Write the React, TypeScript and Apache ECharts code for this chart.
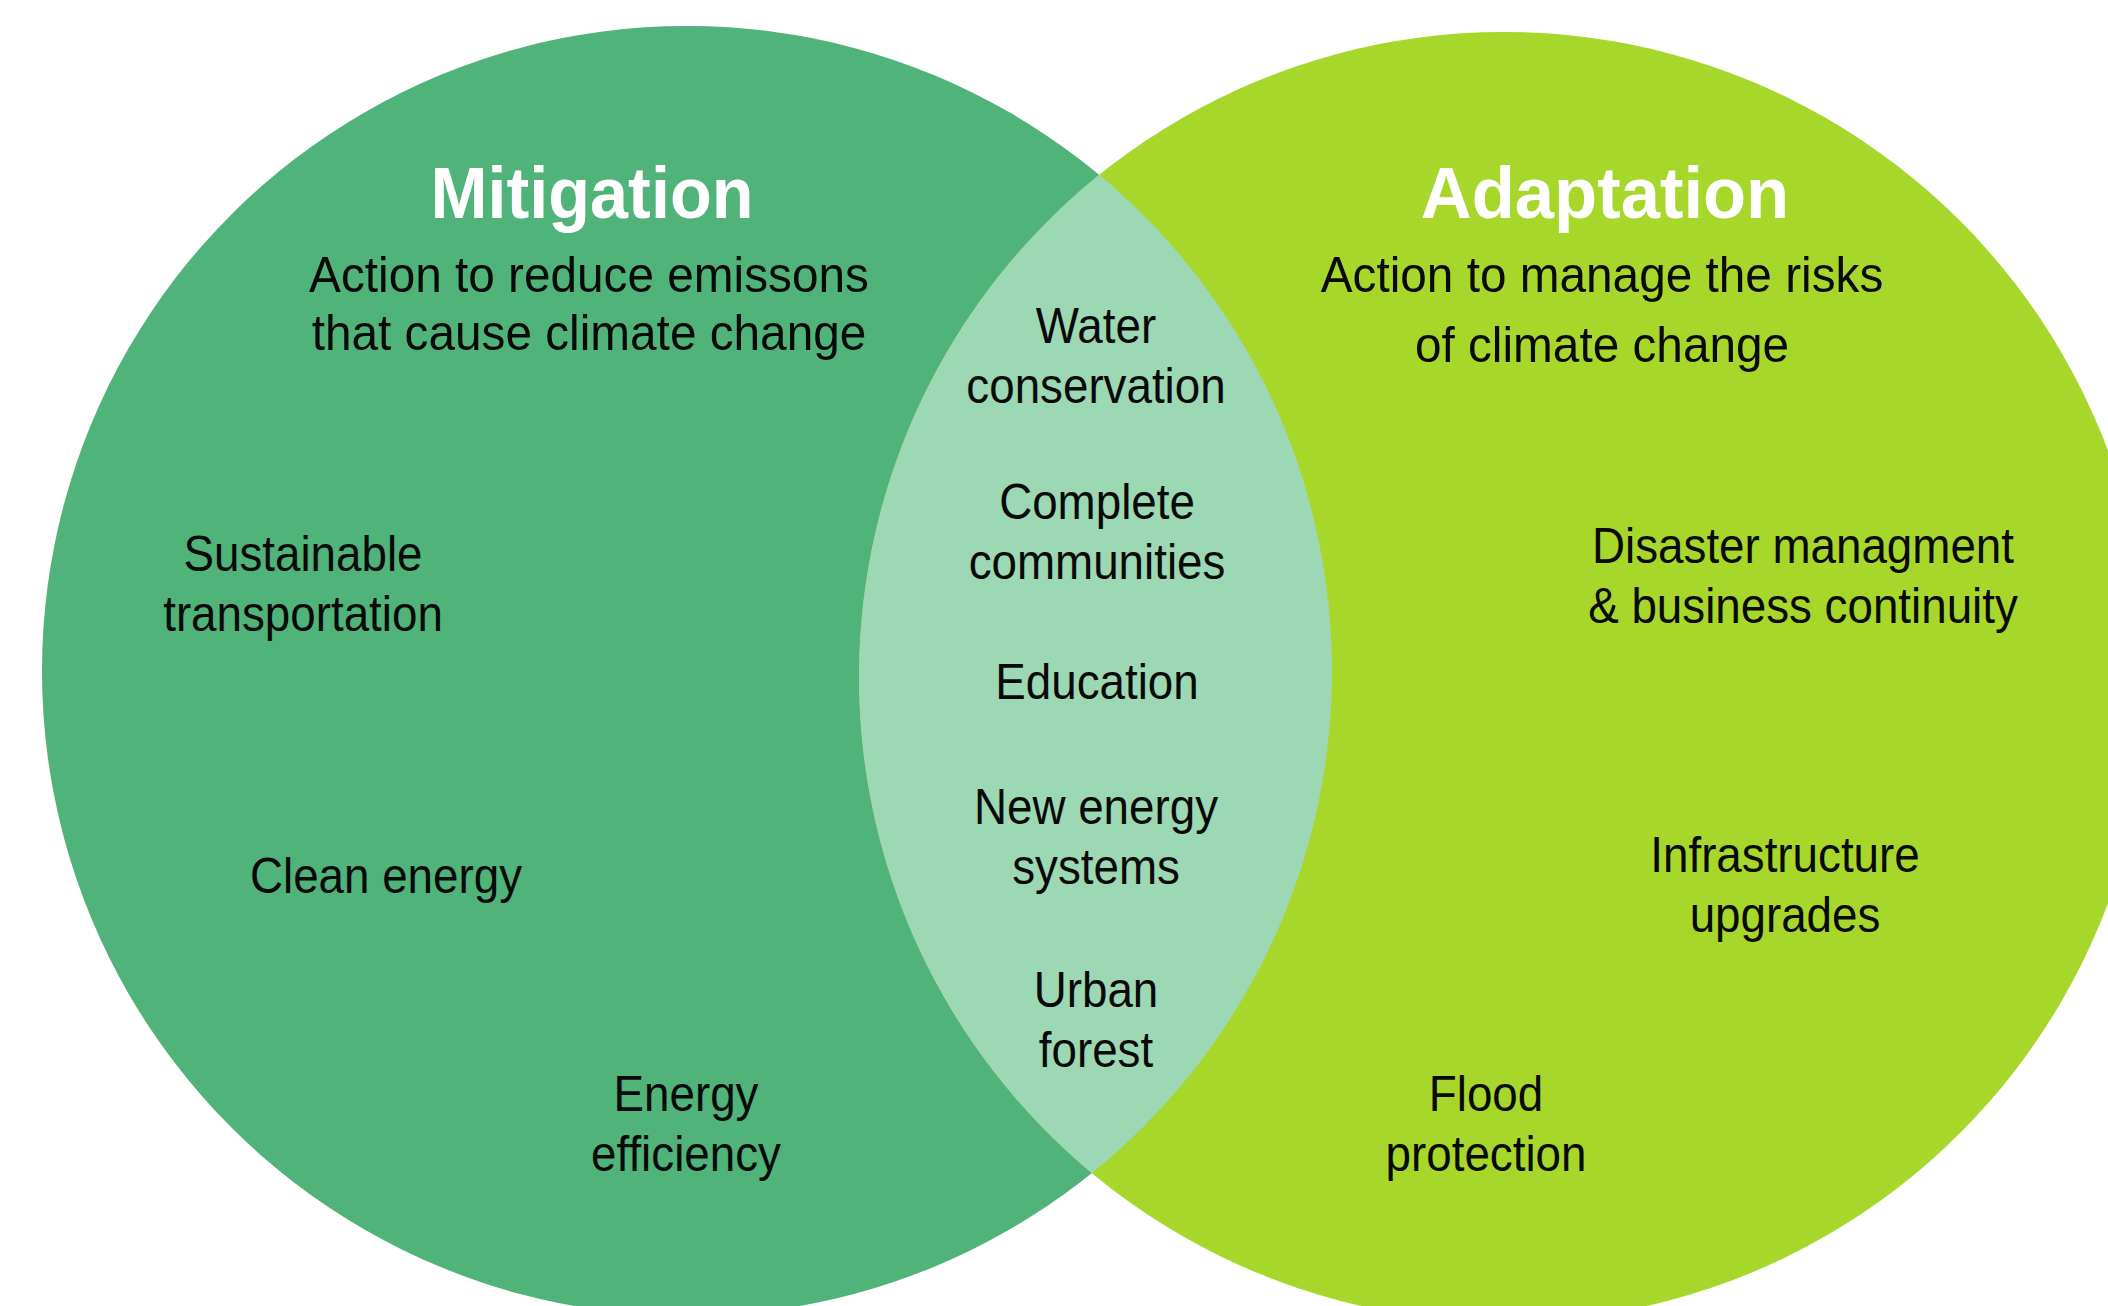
import React, { useEffect, useRef } from "react";
import * as echarts from "echarts";

// ---- data ----
const setNames = ["Mitigation", "Adaptation"];
const setDescriptions = [
  "Action to reduce emissons\nthat cause climate change",
  "Action to manage the risks\nof climate change",
];
const mitigationOnly = ["Sustainable\ntransportation", "Clean energy", "Energy\nefficiency"];
const sharedItems = [
  "Water\nconservation",
  "Complete\ncommunities",
  "Education",
  "New energy\nsystems",
  "Urban\nforest",
];
const adaptationOnly = [
  "Disaster managment\n& business continuity",
  "Infrastructure\nupgrades",
  "Flood\nprotection",
];

// circle geometry (canvas units on hidden value axes)
const circleX = [687, 1504];
const circleY = [671, 677];
const circleR = [645, 645];

// ---- layout (label anchor points, canvas units) ----
const titleAnchors = [[592, 193], [1605, 193]];
const descAnchors = [[589, 304], [1602, 310]];
const descLineHeights = [58, 70];
const mitigationAnchors = [[303, 584], [386, 876], [686, 1124]];
const sharedAnchors = [[1096, 356], [1097, 532], [1097, 682], [1096, 837], [1096, 1020]];
const adaptationAnchors = [[1803, 576], [1785, 885], [1486, 1124]];

// ---- styles ----
const setColors = ["#4FB37A", "#A7D72A"];
const lensColor = "#9DD8B4";
const FONT = "'Liberation Sans', Arial, Helvetica, sans-serif";
const titleScale = [0.95, 0.98];

type Label = { text: string; pos: number[]; kind: "title" | "desc" | "item"; lh: number; sx: number };

const labels: Label[] = [
  ...setNames.map((t, i) => ({ text: t, pos: titleAnchors[i], kind: "title" as const, lh: 80, sx: titleScale[i] })),
  ...setDescriptions.map((t, i) => ({ text: t, pos: descAnchors[i], kind: "desc" as const, lh: descLineHeights[i], sx: 0.955 })),
  ...mitigationOnly.map((t, i) => ({ text: t, pos: mitigationAnchors[i], kind: "item" as const, lh: 60, sx: 0.915 })),
  ...sharedItems.map((t, i) => ({ text: t, pos: sharedAnchors[i], kind: "item" as const, lh: 60, sx: 0.915 })),
  ...adaptationOnly.map((t, i) => ({ text: t, pos: adaptationAnchors[i], kind: "item" as const, lh: 60, sx: 0.915 })),
];

export default function App() {
  const ref = useRef<HTMLDivElement>(null);

  useEffect(() => {
    const prevMargin = document.body.style.margin;
    document.body.style.margin = "0";
    const chart = echarts.init(ref.current!, null, { renderer: "svg" });

    const option: any = {
      animation: false,
      backgroundColor: "#ffffff",
      tooltip: { show: false },
      grid: { left: 0, right: 0, top: 0, bottom: 0 },
      xAxis: { type: "value", min: 0, max: 2108, show: false },
      yAxis: { type: "value", min: 0, max: 1306, inverse: true, show: false },
      series: [
        {
          type: "custom",
          name: "sets",
          clip: false,
          silent: true,
          encode: { x: 0, y: 1 },
          data: circleX.map((x, i) => [x, circleY[i], circleR[i]]),
          renderItem: (params: any, api: any) => {
            const c = api.coord([api.value(0), api.value(1)]);
            const r = api.size([api.value(2), 0])[0];
            return {
              type: "circle",
              shape: { cx: c[0], cy: c[1], r },
              style: { fill: setColors[params.dataIndex] },
            };
          },
        },
        {
          type: "custom",
          name: "overlap",
          clip: false,
          silent: true,
          encode: { x: [0, 3], y: [1, 4] },
          data: [[circleX[0], circleY[0], circleR[0], circleX[1], circleY[1], circleR[1]]],
          renderItem: (_params: any, api: any) => {
            const c1 = api.coord([api.value(0), api.value(1)]);
            const r1 = api.size([api.value(2), 0])[0];
            const c2 = api.coord([api.value(3), api.value(4)]);
            const r2 = api.size([api.value(5), 0])[0];
            const dx = c2[0] - c1[0];
            const dy = c2[1] - c1[1];
            const d = Math.sqrt(dx * dx + dy * dy);
            const a = (r1 * r1 - r2 * r2 + d * d) / (2 * d);
            const h = Math.sqrt(Math.max(r1 * r1 - a * a, 0));
            const px = c1[0] + (a * dx) / d;
            const py = c1[1] + (a * dy) / d;
            const top = [px + (h * dy) / d, py - (h * dx) / d];
            const bot = [px - (h * dy) / d, py + (h * dx) / d];
            const pathData =
              `M ${top[0]} ${top[1]} A ${r1} ${r1} 0 0 1 ${bot[0]} ${bot[1]} ` +
              `A ${r2} ${r2} 0 0 1 ${top[0]} ${top[1]} Z`;
            return {
              type: "path",
              shape: { pathData },
              style: { fill: lensColor },
            };
          },
        },
        {
          type: "custom",
          name: "labels",
          clip: false,
          silent: true,
          encode: { x: 0, y: 1 },
          data: labels.map((l) => [l.pos[0], l.pos[1]]),
          renderItem: (params: any, api: any) => {
            const l = labels[params.dataIndex];
            const c = api.coord([api.value(0), api.value(1)]);
            const isTitle = l.kind === "title";
            return {
              type: "text",
              x: c[0],
              y: c[1],
              scaleX: l.sx,
              style: {
                text: l.text,
                x: 0,
                y: 0,
                fill: isTitle ? "#ffffff" : "#0a0a0a",
                fontFamily: FONT,
                fontSize: isTitle ? 72 : 50,
                fontWeight: isTitle ? "bold" : "normal",
                lineHeight: l.lh,
                align: "center",
                verticalAlign: "middle",
              },
            };
          },
        },
      ],
    };

    chart.setOption(option);
    return () => {
      chart.dispose();
      document.body.style.margin = prevMargin;
    };
  }, []);

  return <div ref={ref} style={{ width: 2108, height: 1306, background: "#ffffff" }} />;
}
